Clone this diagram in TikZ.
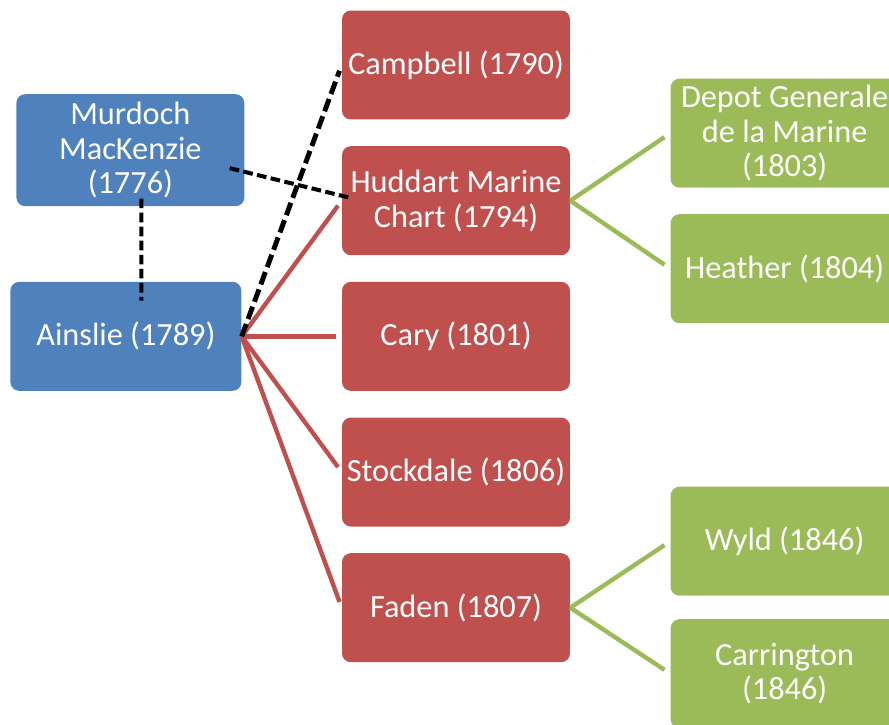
\documentclass[tikz,border=0pt]{standalone}
\usepackage{fontspec}
\setmainfont{Carlito}
\usetikzlibrary{positioning,calc}
\definecolor{mapblue}{RGB}{79,129,189}
\definecolor{mapred}{RGB}{192,80,77}
\definecolor{mapgreen}{RGB}{155,187,89}

\begin{document}
\begin{tikzpicture}[
    x=0.02cm, y=-0.02cm,
    node distance=0.52cm,
    chart/.style={rectangle, rounded corners=5pt, minimum width=4.56cm, minimum height=2.18cm, inner sep=1pt, align=center, text=white, font=\fontsize{18.4}{19.8}\selectfont},
    survey/.style={chart, fill=mapblue},
    copyist/.style={chart, fill=mapred},
    later/.style={chart, fill=mapgreen},
    redline/.style={mapred, line width=2.5pt},
    greenline/.style={mapgreen, line width=2.5pt},
    link/.style={black, line width=2.3pt, dash pattern=on 5.5pt off 2.5pt}
]
\useasboundingbox (0,0) rectangle (889,724);
\clip (0,0) rectangle (889,724);

% Main column
\node[copyist] (campbell) at (456,65) {Campbell (1790)};
\node[copyist, below=of campbell] (huddart) {Huddart Marine\\Chart (1794)};
\node[copyist, below=of huddart] (cary) {Cary (1801)};
\node[copyist, below=of cary] (stockdale) {Stockdale (1806)};
\node[copyist, below=of stockdale] (faden) {Faden (1807)};

% Sources
\node[survey, minimum width=4.62cm, left=2cm of cary] (ainslie) {Ainslie (1789)};
\node[survey, minimum height=2.24cm, above=1.5cm of ainslie, xshift=0.09cm] (murdoch) {Murdoch\\MacKenzie\\(1776)};

% Later copies
\node[later, right=2cm of huddart, yshift=1.35cm] (depot) {Depot Generale\\de la Marine\\(1803)};
\node[later, right=2cm of huddart, yshift=-1.36cm] (heather) {Heather (1804)};
\node[later, right=2cm of faden, yshift=1.33cm] (wyld) {Wyld (1846)};
\node[later, right=2cm of faden, yshift=-1.32cm] (carrington) {Carrington\\(1846)};

% Lines
\draw[redline, shorten >=3.5pt] (ainslie.east) -- (huddart.west);
\draw[redline, shorten >=3.5pt] (ainslie.east) -- (cary.west);
\draw[redline, shorten >=3.5pt] (ainslie.east) -- (stockdale.west);
\draw[redline, shorten >=3.5pt] (ainslie.east) -- (faden.west);
\draw[greenline, shorten >=4pt] (huddart.east) -- (depot.west);
\draw[greenline, shorten >=4pt] (huddart.east) -- (heather.west);
\draw[greenline, shorten >=4pt] (faden.east) -- (wyld.west);
\draw[greenline, shorten >=4pt] (faden.east) -- (carrington.west);

% Dashed links
\coordinate (mk1) at ($(murdoch.east)+(-15,18)$);
\coordinate (hd1) at ($(huddart.west)+(8,-3)$);
\coordinate (mk2) at ($(murdoch.south)+(11,-8)$);
\coordinate (as1) at ($(ainslie.north)+(15.5,19)$);
\draw[link, line width=2.8pt, dash pattern=on 7.5pt off 3pt, shorten >=3.5pt] (ainslie.east) -- (campbell.west);
\draw[link] (mk1) -- (hd1);
\draw[link] (mk2) -- (as1);

\end{tikzpicture}
\end{document}
